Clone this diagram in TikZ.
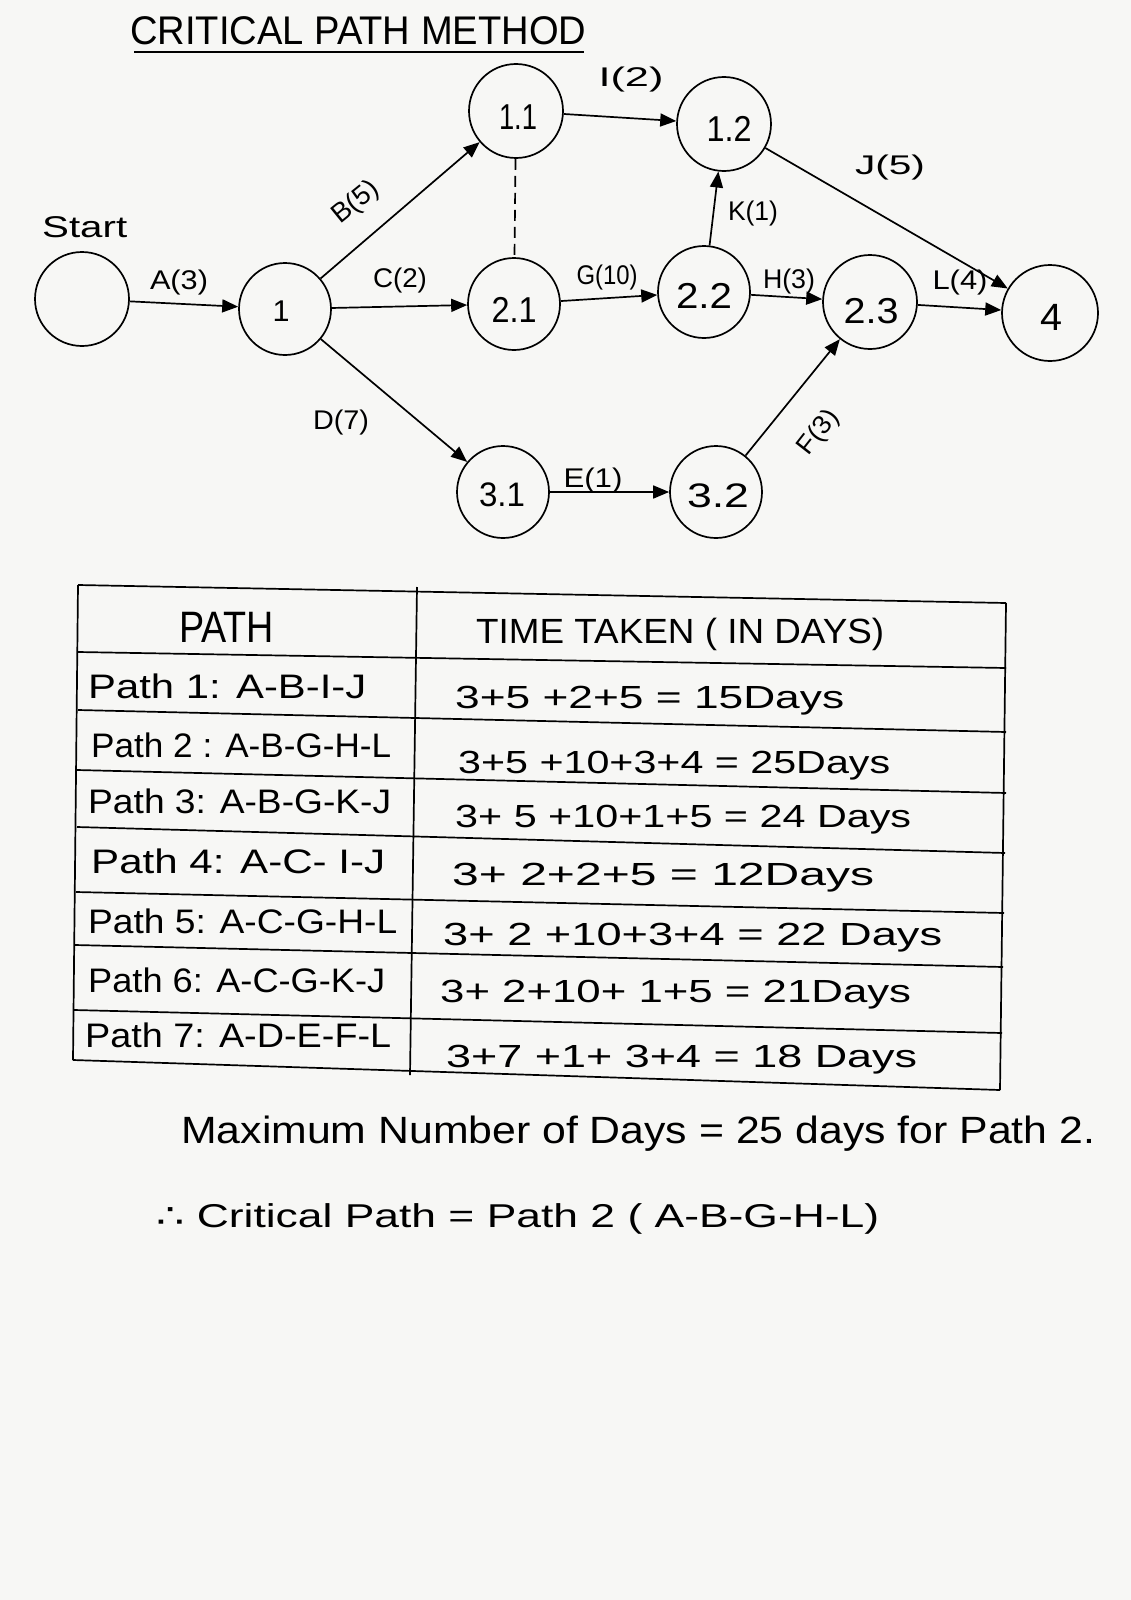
\documentclass[tikz,border=0pt]{standalone}
\usepackage{fontspec}
\usepackage{graphicx}
\setmainfont{Liberation Sans}
\newfontfamily\symfont{DejaVu Sans}
\usetikzlibrary{arrows.meta}
\definecolor{paper}{RGB}{247,247,245}
\newcommand\hwtext[3]{{\fontsize{#1pt}{#1pt}\selectfont\resizebox{#2pt}{\height}{#3}}}
\begin{document}
\begin{tikzpicture}[x=1pt,y=-1pt,
  ev/.style={circle,draw,line width=1.7pt,inner sep=0pt},
  nl/.style={inner sep=0pt},
  el/.style={inner sep=0pt},
  tx/.style={anchor=base west,inner sep=0pt},
  arr/.style={line width=1.7pt,-{Triangle[length=16pt,width=13pt]}},
  dashline/.style={line width=1.7pt,dash pattern=on 11pt off 6pt},
  tline/.style={line width=1.7pt}]
\fill[paper] (0,0) rectangle (1131,1600);
\useasboundingbox (0,0) rectangle (1131,1600);

% title
\node[tx] (title) at (130,45) {\hwtext{40}{456}{CRITICAL PATH METHOD}};
\draw[tline] (134,52) -- (584,52);

% start label
\node[tx] (startlbl) at (42,237) {\hwtext{30}{85}{Start}};

% events
\node[ev,minimum size=94pt] (s)   at (82,299)  {};
\node[ev,minimum size=92pt] (n1)  at (285,309) {};
\node[ev,minimum size=94pt] (n11) at (516,111) {};
\node[ev,minimum size=94pt] (n12) at (724,124) {};
\node[ev,minimum size=92pt] (n21) at (514,304) {};
\node[ev,minimum size=92pt] (n22) at (704,292) {};
\node[ev,minimum size=94pt] (n23) at (870,302) {};
\node[ev,minimum size=96pt] (n4)  at (1050,313) {};
\node[ev,minimum size=92pt] (n31) at (503,492) {};
\node[ev,minimum size=92pt] (n32) at (716,492) {};

% event labels
\node[nl] (t1)  at (281,311) {\hwtext{30}{17}{1}};
\node[nl] (t11) at (518,117) {\hwtext{36}{38}{1.1}};
\node[nl] (t12) at (729,129) {\hwtext{36}{45}{1.2}};
\node[nl] (t21) at (514,310) {\hwtext{36}{45}{2.1}};
\node[nl] (t22) at (704,296) {\hwtext{36}{56}{2.2}};
\node[nl] (t23) at (871,311) {\hwtext{36}{55}{2.3}};
\node[nl] (t4)  at (1051,317) {\hwtext{38}{22}{4}};
\node[nl] (t31) at (502,495) {\hwtext{34}{46}{3.1}};
\node[nl] (t32) at (718,496) {\hwtext{34}{62}{3.2}};

% activities
\draw[arr] (s) -- (n1);
\draw[arr] (n1) -- (n11);
\draw[arr] (n1) -- (n21);
\draw[arr] (n1) -- (n31);
\draw[arr] (n11) -- (n12);
\draw[dashline] (n11) -- (n21);
\draw[arr] (n21) -- (n22);
\draw[arr] (n22) -- (n12);
\draw[arr] (n22) -- (n23);
\draw[arr] (n12) -- (n4);
\draw[arr] (n23) -- (n4);
\draw[arr] (n31) -- (n32);
\draw[arr] (n32) -- (n23);

% activity labels
\node[el] (la) at (179,283) {\hwtext{27}{58}{A(3)}};
\node[el,rotate=39] (lb) at (356,203) {\hwtext{27}{52}{B(5)}};
\node[el] (lc) at (400,281) {\hwtext{27}{54}{C(2)}};
\node[el] (ld) at (341,423) {\hwtext{27}{56}{D(7)}};
\node[el] (le) at (593,481) {\hwtext{27}{59}{E(1)}};
\node[el,rotate=52] (lf) at (819,433) {\hwtext{26}{50}{F(3)}};
\node[el] (lg) at (607,278) {\hwtext{27}{61}{G(10)}};
\node[el] (lh) at (789,282) {\hwtext{27}{52}{H(3)}};
\node[el] (li) at (631,80) {\hwtext{27}{65}{I(2)}};
\node[el] (lj) at (890,168) {\hwtext{27}{70}{J(5)}};
\node[el] (lk) at (753,214) {\hwtext{27}{50}{K(1)}};
\node[el] (ll) at (960,283) {\hwtext{27}{55}{L(4)}};

% table grid
\draw[tline] (78,585) -- (73,1060);
\draw[tline] (417,587) -- (410,1075);
\draw[tline] (1006,603) -- (1000,1090);
\draw[tline] (78,585) -- (1006,603);
\draw[tline] (78,652) -- (1006,668);
\draw[tline] (78,710) -- (1006,732);
\draw[tline] (77,770) -- (1006,793);
\draw[tline] (77,827) -- (1005,853);
\draw[tline] (76,892) -- (1004,913);
\draw[tline] (75,945) -- (1003,967);
\draw[tline] (74,1010) -- (1002,1033);
\draw[tline] (73,1060) -- (1000,1090);

% table header
\node[tx] (hpath) at (179,642) {\hwtext{44}{95}{PATH}};
\node[tx] (htime) at (476,643) {\hwtext{35}{408}{TIME TAKEN ( IN DAYS)}};

% table rows
\node[tx] (r1l) at (88,698)  {\hwtext{34}{278}{Path 1: A-B-I-J}};
\node[tx] (r1r) at (455,708) {\hwtext{32}{389}{3+5 +2+5 = 15Days}};
\node[tx] (r2l) at (91,757)  {\hwtext{34}{300}{Path 2 : A-B-G-H-L}};
\node[tx] (r2r) at (458,773) {\hwtext{32}{432}{3+5 +10+3+4 = 25Days}};
\node[tx] (r3l) at (88,813)  {\hwtext{34}{303}{Path 3: A-B-G-K-J}};
\node[tx] (r3r) at (455,827) {\hwtext{32}{456}{3+ 5 +10+1+5 = 24 Days}};
\node[tx] (r4l) at (91,873)  {\hwtext{34}{294}{Path 4: A-C- I-J}};
\node[tx] (r4r) at (452,885) {\hwtext{32}{422}{3+ 2+2+5 = 12Days}};
\node[tx] (r5l) at (88,933)  {\hwtext{34}{309}{Path 5: A-C-G-H-L}};
\node[tx] (r5r) at (443,945) {\hwtext{32}{499}{3+ 2 +10+3+4 = 22 Days}};
\node[tx] (r6l) at (88,992)  {\hwtext{34}{297}{Path 6: A-C-G-K-J}};
\node[tx] (r6r) at (440,1002) {\hwtext{32}{471}{3+ 2+10+ 1+5 = 21Days}};
\node[tx] (r7l) at (85,1047) {\hwtext{34}{306}{Path 7: A-D-E-F-L}};
\node[tx] (r7r) at (446,1067) {\hwtext{32}{471}{3+7 +1+ 3+4 = 18 Days}};

% conclusion
\node[tx] (maxl) at (181,1143) {\hwtext{38}{914}{Maximum Number of Days = 25 days for Path 2.}};
\node[tx] (crit) at (156,1227) {\hwtext{33}{723}{{\symfont ∴} Critical Path = Path 2 ( A-B-G-H-L)}};
\end{tikzpicture}
\end{document}
